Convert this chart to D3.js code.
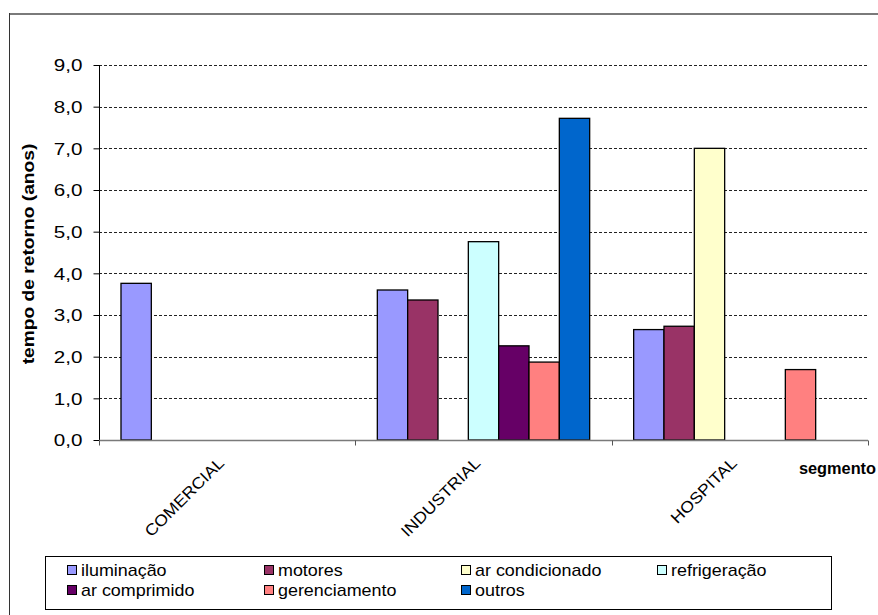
<!DOCTYPE html>
<html>
<head>
<meta charset="utf-8">
<script src="https://cdn.jsdelivr.net/npm/d3@7"></script>
<style>
  html, body { margin: 0; padding: 0; background: #fff; }
  svg { display: block; font-family: "Liberation Sans", Arial, sans-serif; }
</style>
</head>
<body>
<svg id="chart" width="878" height="615"></svg>
<script>
// Payback time (years) per energy-efficiency measure, by segment
const categories = ["COMERCIAL", "INDUSTRIAL", "HOSPITAL"];
const seriesNames = ["iluminação", "motores", "ar condicionado", "refrigeração",
                     "ar comprimido", "gerenciamento", "outros"];
const iluminacao     = [3.76, 3.60, 2.65];
const motores        = [null, 3.36, 2.73];
const arCondicionado = [null, null, 7.00];
const refrigeracao   = [null, 4.76, null];
const arComprimido   = [null, 2.26, null];
const gerenciamento  = [null, 1.87, 1.69];
const outros         = [null, 7.72, null];
const seriesColors = ["#9999FF", "#993366", "#FFFFCC", "#CCFFFF",
                      "#660066", "#FF8080", "#0066CC"];
const yTicks = [0, 1, 2, 3, 4, 5, 6, 7, 8, 9];
const yTitle = "tempo de retorno (anos)";
const xTitle = "segmento";

const seriesValues = [iluminacao, motores, arCondicionado, refrigeracao,
                      arComprimido, gerenciamento, outros];

const svg = d3.select("#chart");
const plot = { left: 99, right: 868, top: 65, bottom: 440 };

// text drawn with a slight horizontal widening, like the original spreadsheet rendering
function wideText(parent, x, y, str, opts) {
  const o = Object.assign({ size: 16, sx: 1.15, rotate: 0, anchor: "start", dy: "0", weight: "normal" }, opts);
  return parent.append("text")
    .attr("transform", `translate(${x},${y}) rotate(${o.rotate}) scale(${o.sx},1)`)
    .attr("text-anchor", o.anchor).attr("dy", o.dy)
    .attr("font-size", o.size + "px").attr("font-weight", o.weight)
    .attr("fill", "#000").text(str);
}

// outer frame
svg.append("line").attr("x1", 9.5).attr("x2", 878).attr("y1", 14).attr("y2", 14)
  .attr("stroke", "#7a7a7a").attr("stroke-width", 2);
svg.append("line").attr("x1", 9.5).attr("x2", 9.5).attr("y1", 13).attr("y2", 615)
  .attr("stroke", "#333").attr("stroke-width", 1);

const x0 = d3.scaleBand().domain(categories).range([plot.left, plot.right]);
const gapRatio = 1.45;
const groupPad = x0.bandwidth() * (gapRatio / 2) / (seriesNames.length + gapRatio);
const x1 = d3.scaleBand().domain(seriesNames)
  .range([groupPad, x0.bandwidth() - groupPad]).padding(0);
const y = d3.scaleLinear().domain([0, 9]).range([plot.bottom, plot.top]);

const fmt = v => d3.format(".1f")(v).replace(".", ",");

// gridlines
svg.append("g")
  .selectAll("line").data(yTicks.filter(t => t > 0)).join("line")
  .attr("x1", plot.left).attr("x2", plot.right - 1)
  .attr("y1", d => Math.round(y(d)) + 0.5).attr("y2", d => Math.round(y(d)) + 0.5)
  .attr("stroke", "#222").attr("stroke-width", 1).attr("stroke-dasharray", "3,2");

// y axis
const yAxis = svg.append("g")
  .attr("transform", `translate(${plot.left + 0.5},0)`)
  .call(d3.axisLeft(y).tickValues(yTicks).tickFormat(fmt).tickSize(6).tickSizeOuter(0));
yAxis.select(".domain").attr("stroke", "#000")
  .attr("d", `M0,${plot.top}V${plot.bottom + 3}`);
yAxis.selectAll(".tick line").attr("stroke", "#000");
yAxis.selectAll(".tick text").remove();
yAxis.selectAll(".tick").each(function (d) {
  wideText(d3.select(this), -17, 0, fmt(d), { size: 16.5, sx: 1.25, anchor: "end", dy: "0.36em" });
});

// bars
const bars = svg.append("g");
seriesNames.forEach((name, si) => {
  bars.selectAll(null)
    .data(categories.map((c, ci) => ({ c, v: seriesValues[si][ci] })).filter(d => d.v != null))
    .join("rect")
    .attr("x", d => x0(d.c) + x1(name))
    .attr("y", d => y(d.v))
    .attr("width", x1.bandwidth())
    .attr("height", d => y(0) - y(d.v))
    .attr("fill", seriesColors[si])
    .attr("stroke", "#000").attr("stroke-width", 1.3);
});

// x axis
const xAxis = svg.append("g").attr("transform", `translate(0,${plot.bottom + 0.5})`);
xAxis.append("line").attr("x1", plot.left).attr("x2", plot.right)
  .attr("stroke", "#7a7a7a").attr("stroke-width", 1.5);
const boundaries = categories.map(c => x0(c)).concat([plot.right]);
xAxis.selectAll(".tk").data(boundaries).join("line")
  .attr("x1", d => Math.round(d) + 0.5).attr("x2", d => Math.round(d) + 0.5)
  .attr("y1", 0).attr("y2", 5).attr("stroke", "#555");

const catLabels = svg.append("g");
categories.forEach(c => {
  wideText(catLabels, x0(c) + x0.bandwidth() / 2 - 6, plot.bottom + 20, c,
    { size: 16, sx: 1.1, rotate: -45, anchor: "end", dy: "0.35em" });
});

// axis titles
wideText(svg, 876, 474, xTitle, { size: 16, sx: 1.02, anchor: "end", weight: "bold" });
wideText(svg, 34, 254, yTitle, { size: 16, sx: 1.2, rotate: -90, anchor: "middle", weight: "bold" });

// legend
const legend = svg.append("g");
legend.append("rect").attr("x", 45.5).attr("y", 556.5).attr("width", 786).attr("height", 53)
  .attr("fill", "#fff").attr("stroke", "#000").attr("stroke-width", 1);
const colX = [67, 264, 461, 657];
const rowY = [570, 590];
seriesNames.forEach((name, i) => {
  const cx = colX[i % 4], cy = rowY[Math.floor(i / 4)];
  legend.append("rect").attr("x", cx + 0.5).attr("y", cy - 4.5).attr("width", 9).attr("height", 9)
    .attr("fill", seriesColors[i]).attr("stroke", "#000").attr("stroke-width", 1);
  wideText(legend, cx + 14, cy, name, { size: 16, sx: 1.12, dy: "0.36em" });
});
</script>
</body>
</html>
